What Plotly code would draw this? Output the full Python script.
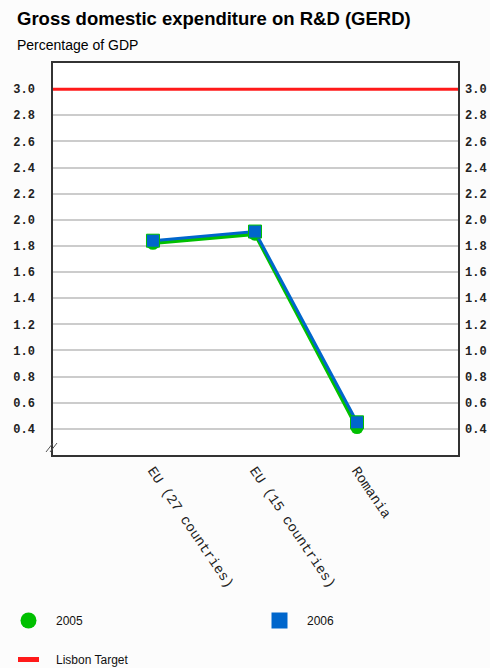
import plotly.graph_objects as go

# Data
categories = ["EU (27 countries)", "EU (15 countries)", "Romania"]
gerd_2005 = [1.82, 1.89, 0.41]
gerd_2006 = [1.84, 1.91, 0.45]
lisbon_target = 3.0
y_ticks = [0.4, 0.6, 0.8, 1.0, 1.2, 1.4, 1.6, 1.8, 2.0, 2.2, 2.4, 2.6, 2.8, 3.0]
y_range = [0.2, 3.2]

GREEN = "#00c000"
BLUE = "#0066cc"
RED = "#ff1a1a"

W, H = 490, 668
ML, MR, MT, MB = 53, 32, 63, 213
PW, PH = W - ML - MR, H - MT - MB


def px_x(px):
    return (px - ML) / PW


def px_y(py):
    return (H - MB - py) / PH


fig = go.Figure()

fig.add_trace(go.Scatter(
    x=categories, y=gerd_2005, name="2005", mode="lines+markers",
    line=dict(color=GREEN, width=3.5),
    marker=dict(symbol="circle", size=13, color=GREEN),
    showlegend=False,
))
fig.add_trace(go.Scatter(
    x=categories, y=gerd_2006, name="2006", mode="lines+markers",
    line=dict(color=BLUE, width=3),
    marker=dict(symbol="square", size=13, color=BLUE, line=dict(color=GREEN, width=1)),
    showlegend=False, yaxis="y2",
))

# legend entries (symbols only)
fig.add_trace(go.Scatter(
    x=[None], y=[None], name="2005", mode="markers",
    marker=dict(symbol="circle", size=20, color=GREEN), legend="legend",
))
fig.add_trace(go.Scatter(
    x=[None], y=[None], name="2006", mode="markers",
    marker=dict(symbol="square", size=20, color=BLUE), legend="legend2",
))
fig.add_trace(go.Scatter(
    x=[None], y=[None], name="Lisbon Target", mode="markers",
    marker=dict(symbol="line-ew", size=15, line=dict(color=RED, width=5)),
    legend="legend3",
))

fig.add_hline(y=lisbon_target, line=dict(color=RED, width=3))

# axis break mark
for dx in (0, 4):
    fig.add_shape(
        type="line", xref="paper", yref="paper",
        x0=px_x(46 + dx), y0=px_y(452), x1=px_x(53 + dx), y1=px_y(443),
        line=dict(color="#555555", width=1),
    )

tick_font = dict(family="Liberation Mono", size=12, color="#222222", weight="bold")
legend_font = dict(family="Liberation Sans", size=12, color="#111111")


def legend_box(px, py):
    return dict(
        orientation="h", x=px_x(px), y=px_y(py), xanchor="left", yanchor="top",
        itemwidth=45, font=legend_font, bgcolor="rgba(0,0,0,0)",
    )


fig.update_layout(
    width=W, height=H,
    margin=dict(l=ML, r=MR, t=MT, b=MB, autoexpand=False),
    paper_bgcolor="#fcfcfc",
    plot_bgcolor="#ffffff",
    font=dict(family="Liberation Sans", color="#111111"),
    xaxis=dict(
        range=[-0.98, 2.99], showgrid=False, zeroline=False, automargin=False,
        showline=True, mirror=True, linecolor="#333333", linewidth=1.5,
        ticks="", tickangle=56,
        tickfont=dict(family="Liberation Mono", size=14, color="#222222"),
    ),
    yaxis=dict(
        range=y_range, tickvals=y_ticks, ticktext=[f"{v:.1f}" for v in y_ticks],
        showgrid=True, gridcolor="#cccccc", gridwidth=1.5, zeroline=False,
        showline=True, mirror=True, linecolor="#333333", linewidth=1.5,
        ticks="", tickfont=tick_font, ticklabelstandoff=14, automargin=False,
    ),
    yaxis2=dict(
        overlaying="y", side="right", matches="y",
        tickvals=y_ticks, ticktext=[f"{v:.1f}" for v in y_ticks],
        showgrid=False, zeroline=False, showline=False, automargin=False,
        ticks="", tickfont=tick_font, ticklabelstandoff=6,
    ),
    legend=legend_box(1, 606),
    legend2=legend_box(252, 606),
    legend3=legend_box(1, 645),
    annotations=[
        dict(
            text="<b>Gross domestic expenditure on R&D (GERD)</b>",
            xref="paper", yref="paper", x=px_x(15), y=px_y(6),
            xanchor="left", yanchor="top", showarrow=False,
            font=dict(family="Liberation Sans", size=18.5, color="#000000"),
        ),
        dict(
            text="Percentage of GDP",
            xref="paper", yref="paper", x=px_x(15), y=px_y(35),
            xanchor="left", yanchor="top", showarrow=False,
            font=dict(family="Liberation Sans", size=14, color="#000000"),
        ),
    ],
)

fig.write_html("out.html")
